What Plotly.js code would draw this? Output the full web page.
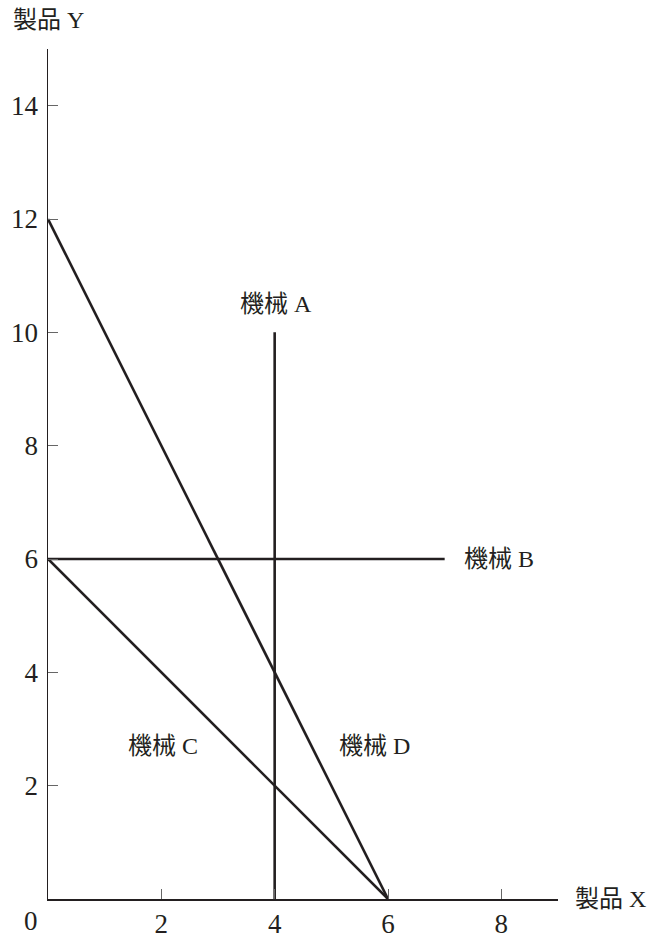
<!DOCTYPE html>
<html>
<head>
<meta charset="utf-8">
<script src="https://cdn.plot.ly/plotly-3.0.1.min.js"></script>
<style>html,body{margin:0;padding:0;background:#fff;}#chart{width:654px;height:939px;}</style>
</head>
<body>
<div id="chart"></div>
<script>
// Data
const machineNames = ["機械 A", "機械 B", "機械 C", "機械 D"];
const machineAX = [4, 4];   const machineAY = [0, 10];
const machineBX = [0, 7];   const machineBY = [6, 6];
const machineCX = [0, 6];   const machineCY = [6, 0];
const machineDX = [0, 6];   const machineDY = [12, 0];
const labelX = [4.02, 7.95, 2.03, 5.76];
const labelY = [10.5, 6.0, 2.7, 2.7];
const xTicks = [2, 4, 6, 8];
const yTicks = [2, 4, 6, 8, 10, 12, 14];
const xTitle = "製品 X";
const yTitle = "製品 Y";

const FONT = "Liberation Serif, Noto Sans CJK JP, serif";
const INK = "#231f20";

const lineStyle = {color: INK, width: 2.6};
const series = [[machineAX, machineAY], [machineBX, machineBY], [machineCX, machineCY], [machineDX, machineDY]];
const traces = series.map((s, i) => ({
  x: s[0], y: s[1], mode: "lines", type: "scatter", name: machineNames[i],
  line: lineStyle, hoverinfo: "skip", showlegend: false
}));

const annotations = machineNames.map((n, i) => ({
  x: labelX[i], y: labelY[i], xref: "x", yref: "y", text: n, showarrow: false,
  font: {family: FONT, size: 24, color: INK}, xanchor: "center", yanchor: "middle"
}));
annotations.push({x: 9, y: 0, xref: "x", yref: "y", text: xTitle, showarrow: false,
  xanchor: "left", yanchor: "middle", xshift: 15, font: {family: FONT, size: 24, color: INK}});
annotations.push({x: 0, y: 1, xref: "paper", yref: "paper", text: yTitle, showarrow: false,
  xanchor: "left", yanchor: "bottom", xshift: -37, yshift: 14, font: {family: FONT, size: 24, color: INK}});
annotations.push({x: 0, y: 0, xref: "x", yref: "y", text: "0", showarrow: false,
  xanchor: "center", yanchor: "middle", xshift: -17, yshift: -22, font: {family: FONT, size: 27, color: INK}});

const axisCommon = {
  showgrid: false, zeroline: false, showline: true, linewidth: 1.5, linecolor: INK,
  ticks: "inside", ticklen: 10, tickwidth: 1, tickcolor: "#666",
  tickfont: {family: FONT, size: 27, color: INK}, fixedrange: true
};

const layout = {
  width: 654, height: 939,
  margin: {l: 48, r: 96, t: 49, b: 40, pad: 0},
  paper_bgcolor: "#fff", plot_bgcolor: "#fff",
  xaxis: Object.assign({}, axisCommon, {range: [0, 9], tickvals: xTicks, ticktext: xTicks.map(String), ticklabelstandoff: 0}),
  yaxis: Object.assign({}, axisCommon, {range: [0, 15], tickvals: yTicks, ticktext: yTicks.map(String), ticklabelstandoff: 3}),
  annotations: annotations
};

Plotly.newPlot("chart", traces, layout, {displayModeBar: false, staticPlot: true});
</script>
</body>
</html>
